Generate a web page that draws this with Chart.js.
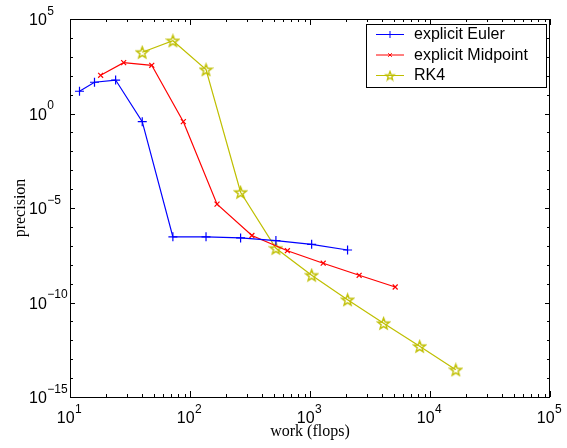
<!DOCTYPE html>
<html>
<head>
<meta charset="utf-8">
<script src="https://cdn.jsdelivr.net/npm/chart.js@4/dist/chart.umd.min.js"></script>
<style>
  html, body { margin: 0; padding: 0; background: #fff; }
  #chart-canvas { display: block; }
</style>
</head>
<body>
<canvas id="chart-canvas" width="567" height="448"></canvas>
<script>
// work (flops) vs precision for three explicit integrators, log-log
var workEuler = [12, 16, 24, 40, 72, 136, 264, 520, 1032, 2056];
var precEuler = [15, 45, 59, 0.37, 3.0e-7, 3.0e-7, 2.6e-7, 1.9e-7, 1.2e-7, 6.0e-8];

var workMid = [18, 28, 48, 88, 168, 328, 648, 1288, 2568, 5128];
var precMid = [105, 490, 355, 0.37, 1.6e-5, 3.5e-7, 5.5e-8, 1.2e-8, 2.75e-9, 6.6e-10];

var workRK4 = [40, 72, 136, 264, 520, 1032, 2056, 4104, 8200, 16392];
var precRK4 = [1740, 7080, 209, 6.8e-5, 7.4e-8, 2.8e-9, 1.4e-10, 7.9e-12, 4.8e-13, 2.75e-14];

var xDecades = [1, 2, 3, 4, 5];                       // 10^1 .. 10^5
var yDecades = [5, 0, -5, -10, -15];                   // labelled powers
var seriesLabels = ["explicit Euler", "explicit Midpoint", "RK4"];

var COLORS = { euler: "#0000ff", mid: "#ff0000", rk4: "#bfbf00", ink: "#000000" };
var SANS = "'Liberation Sans', Arial, Helvetica, sans-serif";
var SERIF = "'Liberation Serif', 'Times New Roman', serif";

function pts(xs, ys) {
  return xs.map(function (x, i) { return { x: x, y: ys[i] }; });
}

// MATLAB-style pentagram marker
function starMarker(color, outer, lw) {
  var s = Math.ceil(outer * 2 + 3);
  var c = document.createElement("canvas");
  c.width = s; c.height = s;
  var g = c.getContext("2d");
  g.strokeStyle = color;
  g.lineWidth = lw;
  g.beginPath();
  for (var i = 0; i < 10; i++) {
    var r = i % 2 ? outer * 0.42 : outer;
    var a = -Math.PI / 2 + i * Math.PI / 5;
    var px = s / 2 + r * Math.cos(a), py = s / 2 + 0.6 + r * Math.sin(a);
    if (i) g.lineTo(px, py); else g.moveTo(px, py);
  }
  g.closePath();
  g.stroke();
  return c;
}
var star = starMarker(COLORS.rk4, 6, 1.4);
var starSmall = starMarker(COLORS.rk4, 4.5, 1.3);

function supLabel(ctx, x, baseline, exp, align) {
  var main = "10", sup = String(exp).replace("-", "\u2212");
  ctx.font = "16px " + SANS;
  var w1 = ctx.measureText(main).width;
  ctx.font = "12px " + SANS;
  var w2 = ctx.measureText(sup).width;
  var start = align === "center" ? x - (w1 + w2) / 2 : x;
  ctx.textAlign = "left";
  ctx.textBaseline = "alphabetic";
  ctx.font = "16px " + SANS;
  ctx.fillText(main, start, baseline);
  ctx.font = "12px " + SANS;
  ctx.fillText(sup, start + w1 + 0.5, baseline - 10.5);
}

// box, inward ticks on all four sides, tick labels, axis titles
var axesPlugin = {
  id: "matlabAxes",
  afterDatasetsDraw: function (chart) {
    var ctx = chart.ctx, a = chart.chartArea;
    var xs = chart.scales.x, ys = chart.scales.y;
    ctx.save();
    ctx.strokeStyle = COLORS.ink;
    ctx.lineWidth = 1;
    ctx.strokeRect(Math.round(a.left) + 0.5, Math.round(a.top) + 0.5,
                   Math.round(a.right - a.left) - 1, Math.round(a.bottom - a.top));

    ctx.beginPath();
    // x ticks: majors at decades, minors at 2..9
    for (var d = 1; d <= 5; d++) {
      for (var k = 1; k <= 9; k++) {
        if (d === 5 && k > 1) break;
        var px = Math.round(xs.getPixelForValue(k * Math.pow(10, d))) + 0.5;
        var len = k === 1 ? 6 : 3;
        ctx.moveTo(px, a.bottom); ctx.lineTo(px, a.bottom - len);
        ctx.moveTo(px, a.top); ctx.lineTo(px, a.top + len);
      }
    }
    // y ticks at every decade
    for (var p = -15; p <= 5; p++) {
      var py = Math.round(ys.getPixelForValue(Math.pow(10, p))) + 0.5;
      var l = p % 5 === 0 ? 5 : 3;
      ctx.moveTo(a.left, py); ctx.lineTo(a.left + l, py);
      ctx.moveTo(a.right, py); ctx.lineTo(a.right - l, py);
    }
    ctx.stroke();

    ctx.fillStyle = COLORS.ink;
    xDecades.forEach(function (e) {
      supLabel(ctx, xs.getPixelForValue(Math.pow(10, e)) - 1, 423, e, "center");
    });
    yDecades.forEach(function (e) {
      supLabel(ctx, 29, ys.getPixelForValue(Math.pow(10, e)) + 6, e, "left");
    });

    ctx.font = "16px " + SERIF;
    ctx.textAlign = "center";
    ctx.textBaseline = "alphabetic";
    ctx.fillText("work (flops)", (a.left + a.right) / 2, 436);
    ctx.save();
    ctx.translate(25, (a.top + a.bottom) / 2);
    ctx.rotate(-Math.PI / 2);
    ctx.fillText("precision", 0, 0);
    ctx.restore();
    ctx.restore();
  }
};

// legend box in the top right corner
var legendPlugin = {
  id: "matlabLegend",
  afterDraw: function (chart) {
    var ctx = chart.ctx;
    var bx = 366, by = 24, bw = 180, bh = 63;
    var rows = [34.5, 55, 75.5];
    ctx.save();
    ctx.fillStyle = "#fff";
    ctx.fillRect(bx, by, bw, bh);
    ctx.strokeStyle = COLORS.ink;
    ctx.lineWidth = 1;
    ctx.strokeRect(bx + 0.5, by + 0.5, bw, bh);
    chart.data.datasets.forEach(function (ds, i) {
      var y = rows[i];
      ctx.strokeStyle = ds.borderColor;
      ctx.lineWidth = 1;
      ctx.beginPath();
      ctx.moveTo(376, y); ctx.lineTo(404, y);
      ctx.stroke();
      var style = ds.pointStyle === star ? starSmall : ds.pointStyle;
      Chart.helpers.drawPoint(ctx, {
        pointStyle: style, radius: ds.pointRadius - 1, borderWidth: 1, rotation: 0
      }, 390, y);
      ctx.fillStyle = COLORS.ink;
      ctx.font = "16px " + SANS;
      ctx.textAlign = "left";
      ctx.textBaseline = "middle";
      ctx.fillText(ds.label, 414, y + 0.5);
    });
    ctx.restore();
  }
};

function lineSet(label, data, color, style, radius) {
  return {
    label: label,
    data: data,
    borderColor: color,
    backgroundColor: color,
    pointBorderColor: color,
    borderWidth: 1.2,
    pointStyle: style,
    pointRadius: radius,
    pointBorderWidth: 1.2,
    pointHoverRadius: radius,
    tension: 0,
    fill: false
  };
}

new Chart(document.getElementById("chart-canvas").getContext("2d"), {
  type: "line",
  data: {
    datasets: [
      lineSet(seriesLabels[0], pts(workEuler, precEuler), COLORS.euler, "cross", 4.5),
      lineSet(seriesLabels[1], pts(workMid, precMid), COLORS.mid, "crossRot", 3.5),
      lineSet(seriesLabels[2], pts(workRK4, precRK4), COLORS.rk4, star, 6)
    ]
  },
  options: {
    responsive: false,
    animation: false,
    layout: { padding: { left: 70, top: 19, right: 17, bottom: 51 } },
    plugins: { legend: { display: false }, tooltip: { enabled: false } },
    scales: {
      x: { type: "logarithmic", min: 10, max: 100000, display: false },
      y: { type: "logarithmic", min: 1e-15, max: 1e5, display: false }
    }
  },
  plugins: [axesPlugin, legendPlugin]
});
</script>
</body>
</html>
